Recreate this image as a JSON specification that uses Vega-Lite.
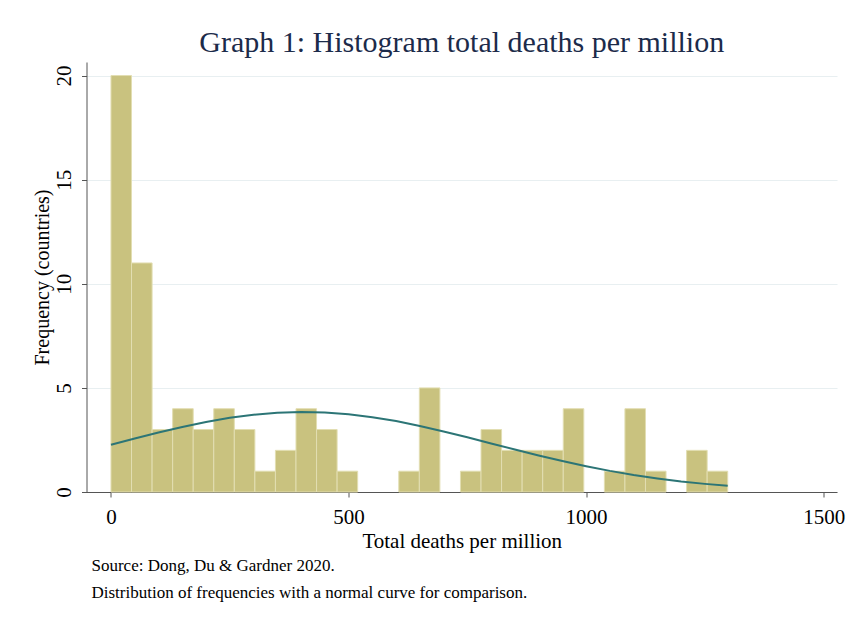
{
  "$schema": "https://vega.github.io/schema/vega-lite/v6.json",
  "autosize": {"type": "none"},
  "padding": {"left": 86.5, "top": 62, "right": 21, "bottom": 133},
  "width": 750.5,
  "height": 430,
  "background": "white",
  "config": {
    "font": "Liberation Serif",
    "view": {"stroke": null}
  },
  "datasets": {
    "bins": [
      {"bin_start": 0, "bin_end": 43.27, "count": 20},
      {"bin_start": 43.27, "bin_end": 86.53, "count": 11},
      {"bin_start": 86.53, "bin_end": 129.8, "count": 3},
      {"bin_start": 129.8, "bin_end": 173.07, "count": 4},
      {"bin_start": 173.07, "bin_end": 216.33, "count": 3},
      {"bin_start": 216.33, "bin_end": 259.6, "count": 4},
      {"bin_start": 259.6, "bin_end": 302.87, "count": 3},
      {"bin_start": 302.87, "bin_end": 346.13, "count": 1},
      {"bin_start": 346.13, "bin_end": 389.4, "count": 2},
      {"bin_start": 389.4, "bin_end": 432.67, "count": 4},
      {"bin_start": 432.67, "bin_end": 475.93, "count": 3},
      {"bin_start": 475.93, "bin_end": 519.2, "count": 1},
      {"bin_start": 605.73, "bin_end": 649.0, "count": 1},
      {"bin_start": 649.0, "bin_end": 692.27, "count": 5},
      {"bin_start": 735.53, "bin_end": 778.8, "count": 1},
      {"bin_start": 778.8, "bin_end": 822.07, "count": 3},
      {"bin_start": 822.07, "bin_end": 865.33, "count": 2},
      {"bin_start": 865.33, "bin_end": 908.6, "count": 2},
      {"bin_start": 908.6, "bin_end": 951.87, "count": 2},
      {"bin_start": 951.87, "bin_end": 995.13, "count": 4},
      {"bin_start": 1038.4, "bin_end": 1081.67, "count": 1},
      {"bin_start": 1081.67, "bin_end": 1124.93, "count": 4},
      {"bin_start": 1124.93, "bin_end": 1168.2, "count": 1},
      {"bin_start": 1211.47, "bin_end": 1254.73, "count": 2},
      {"bin_start": 1254.73, "bin_end": 1298.0, "count": 1}
    ],
    "curve": [
      {"deaths": 0, "frequency": 2.273},
      {"deaths": 50, "frequency": 2.568},
      {"deaths": 100, "frequency": 2.855},
      {"deaths": 150, "frequency": 3.123},
      {"deaths": 200, "frequency": 3.361},
      {"deaths": 250, "frequency": 3.561},
      {"deaths": 300, "frequency": 3.713},
      {"deaths": 350, "frequency": 3.809},
      {"deaths": 400, "frequency": 3.846},
      {"deaths": 450, "frequency": 3.821},
      {"deaths": 500, "frequency": 3.736},
      {"deaths": 550, "frequency": 3.595},
      {"deaths": 600, "frequency": 3.405},
      {"deaths": 650, "frequency": 3.173},
      {"deaths": 700, "frequency": 2.91},
      {"deaths": 750, "frequency": 2.627},
      {"deaths": 800, "frequency": 2.333},
      {"deaths": 850, "frequency": 2.039},
      {"deaths": 900, "frequency": 1.754},
      {"deaths": 950, "frequency": 1.485},
      {"deaths": 1000, "frequency": 1.237},
      {"deaths": 1050, "frequency": 1.014},
      {"deaths": 1100, "frequency": 0.818},
      {"deaths": 1150, "frequency": 0.65},
      {"deaths": 1200, "frequency": 0.507},
      {"deaths": 1250, "frequency": 0.39},
      {"deaths": 1298, "frequency": 0.299}
    ]
  },
  "title": {
    "text": "Graph 1: Histogram total deaths per million",
    "fontSize": 30,
    "fontWeight": "normal",
    "color": "#1c2b4a",
    "anchor": "middle",
    "offset": 4
  },
  "resolve": {"scale": {"x": "independent"}, "axis": {"x": "independent"}},
  "layer": [
    {
      "data": {"name": "bins"},
      "mark": {"type": "bar", "color": "#c9c27f", "stroke": "#e2deb2", "strokeWidth": 1},
      "encoding": {
        "x": {
          "field": "bin_start", "type": "quantitative",
          "scale": {"domain": [-51.5, 1528], "nice": false, "zero": false},
          "axis": {
            "values": [0, 500, 1000, 1500],
            "format": "d",
            "title": "Total deaths per million",
            "grid": false,
            "domainColor": "#555555",
            "tickColor": "#555555",
            "tickSize": 5,
            "labelFontSize": 21,
            "labelColor": "black",
            "labelPadding": 9,
            "titleFontSize": 21,
            "titleFontWeight": "normal",
            "titleColor": "black",
            "titlePadding": 3
          }
        },
        "x2": {"field": "bin_end"},
        "y": {
          "field": "count", "type": "quantitative",
          "scale": {"domain": [0, 20.65], "nice": false},
          "axis": {
            "values": [0, 5, 10, 15, 20],
            "title": "Frequency (countries)",
            "grid": true,
            "gridColor": "#e8eff1",
            "gridWidth": 1.2,
            "domainColor": "#555555",
            "tickColor": "#555555",
            "tickSize": 5,
            "labelAngle": -90,
            "labelAlign": "center",
            "labelBaseline": "bottom",
            "labelFontSize": 21,
            "labelColor": "black",
            "labelPadding": 7,
            "titleFontSize": 20,
            "titleFontWeight": "normal",
            "titleColor": "black",
            "titlePadding": 1
          }
        },
        "y2": {"datum": 0}
      }
    },
    {
      "data": {"name": "curve"},
      "mark": {"type": "line", "color": "#2c7576", "strokeWidth": 2},
      "encoding": {
        "x": {
          "field": "deaths", "type": "quantitative",
          "scale": {"domain": [-51.5, 1528], "nice": false, "zero": false},
          "axis": {
            "orient": "bottom",
            "title": ["Source: Dong, Du & Gardner 2020.", "Distribution of frequencies with a normal curve for comparison."],
            "domain": false,
            "ticks": false,
            "labels": false,
            "grid": false,
            "offset": 65,
            "titlePadding": 0,
            "titleAnchor": "start",
            "titleAlign": "left",
            "titleX": 4.5,
            "titleFontSize": 17,
            "titleFontWeight": "normal",
            "titleColor": "black",
            "titleLineHeight": 27
          }
        },
        "y": {"field": "frequency", "type": "quantitative"}
      }
    }
  ]
}
